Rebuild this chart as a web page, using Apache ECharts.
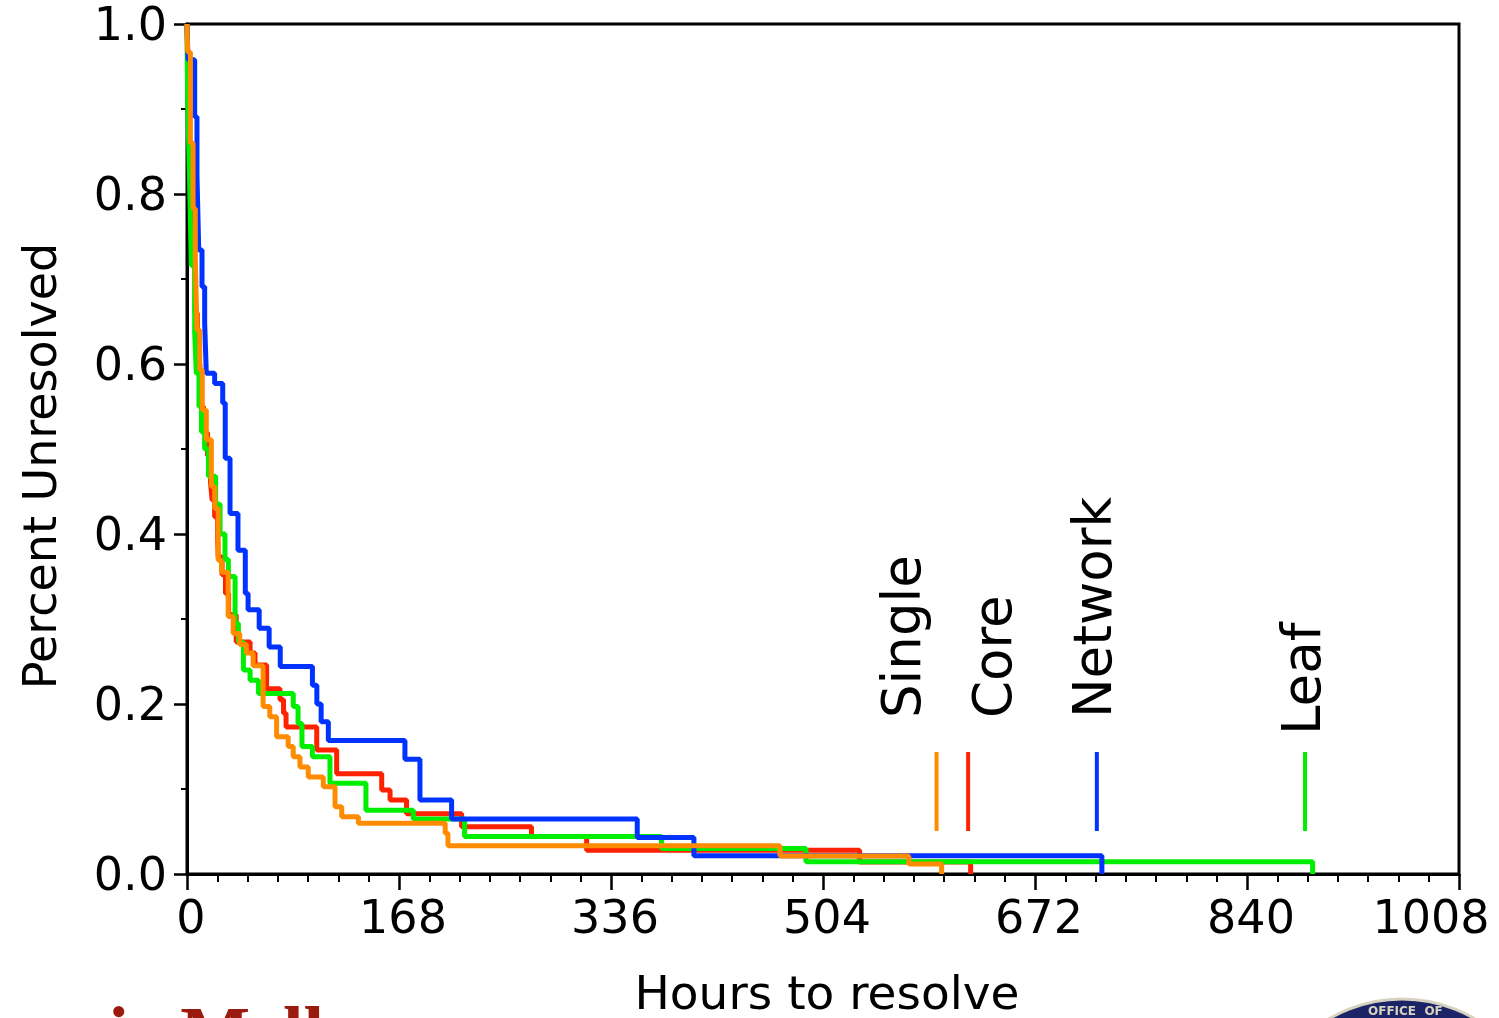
<!DOCTYPE html>
<html>
<head>
<meta charset="utf-8">
<title>Hours to resolve</title>
<script src="https://cdn.jsdelivr.net/npm/echarts@6/dist/echarts.min.js"></script>
</head>
<body style="margin:0;background:#fff">
<div id="container" style="width:1499px;height:1018px"></div>
<script>
// [hours, fraction still unresolved] at each step
var core = [[0,1],[0.6,0.94],[1.8,0.87],[3.2,0.79],[4.6,0.72],[6.4,0.66],[8.2,0.6],[10.2,0.55],[13.1,0.519],
    [16.3,0.492],[18.6,0.461],[19.9,0.44],[21.9,0.42],[24.3,0.395],[24.7,0.373],[27.8,0.352],[30.5,0.33],
    [33,0.305],[39,0.273],[50,0.26],[53.9,0.246],[63.1,0.218],[73.7,0.205],[76.5,0.189],[78.5,0.173],
    [102.8,0.146],[118.6,0.118],[154.3,0.0988],[160.9,0.087],[174,0.071],[217.6,0.0557],[273,0.044],
    [316.7,0.0278],[533,0.014],[621,0]];
var leaf = [[0,1],[0.2,0.96],[0.5,0.91],[2,0.82],[3.4,0.716],[6.1,0.636],[7.4,0.589],[9.5,0.55],[11.5,0.52],
    [14,0.5],[17,0.468],[22.7,0.435],[26.2,0.4],[30.1,0.37],[32.8,0.35],[38.1,0.295],[40.7,0.273],[44.7,0.24],
    [50,0.228],[56.6,0.2125],[84.2,0.197],[88,0.177],[91.1,0.15],[99.4,0.138],[113.3,0.1067],[141.8,0.075],
    [179.3,0.0647],[220,0.044],[376,0.03],[490.5,0.0145],[892,0]];
var network = [[0,1],[0.8,0.958],[6.1,0.891],[7.9,0.822],[9.3,0.734],[11.9,0.691],[14,0.648],[15.3,0.589],
    [21.9,0.577],[28.3,0.554],[30.3,0.489],[34.1,0.424],[40.4,0.381],[46.2,0.33],[48.4,0.311],[57.2,0.289],
    [65.1,0.267],[73.9,0.244],[99.4,0.222],[102.9,0.2],[106.3,0.179],[112,0.157],[172.7,0.135],[184.6,0.087],
    [209.7,0.0647],[356.8,0.043],[401.7,0.0215],[725,0]];
var single = [[0,1],[0.5,0.967],[2.7,0.86],[4.8,0.783],[6.6,0.724],[7.9,0.64],[10.1,0.593],[12.1,0.546],
    [15.3,0.511],[19.3,0.456],[22,0.43],[24.7,0.369],[27.3,0.355],[32.6,0.303],[36.6,0.283],[41.8,0.27],
    [47.1,0.26],[52.4,0.245],[60.3,0.197],[65.6,0.185],[71,0.1616],[80.2,0.15],[84.2,0.138],[89.5,0.126],
    [96.1,0.114],[108,0.1027],[117.3,0.079],[122.6,0.0674],[135.8,0.0596],[204.6,0.048],[206.8,0.0333],
    [469.9,0.0212],[572,0.0118],[598,0]];

var groupNames = ['Core', 'Leaf', 'Network', 'Single'];
var groupColors = ['#ff2200', '#00ee00', '#0033ff', '#ff8c00'];
var groupData = [core, leaf, network, single];
var markerHours = [619, 886, 721, 594];
var markerRange = [0.0506, 0.1435];
var labelHours = [642, 887, 721, 570];
var labelLevels = [0.1835, 0.1635, 0.1835, 0.1835];

var xMax = 1008, xStep = 168;

var font = 'DejaVu Sans, Verdana, sans-serif';
var series = [];
for (var i = 0; i < groupNames.length; i++) {
    series.push({
        name: groupNames[i],
        type: 'line',
        step: 'end',
        showSymbol: false,
        data: groupData[i],
        lineStyle: {color: groupColors[i], width: 5},
        z: 2 + i
    });
}
for (var j = 0; j < groupNames.length; j++) {
    series.push({
        type: 'line',
        showSymbol: false,
        data: [[markerHours[j], markerRange[0]], [markerHours[j], markerRange[1]]],
        lineStyle: {color: groupColors[j], width: 4},
        z: 2
    });
}
var labelPoints = [];
for (var k = 0; k < groupNames.length; k++) {
    labelPoints.push({value: [labelHours[k], labelLevels[k]], name: groupNames[k]});
}
series.push({
    type: 'scatter',
    symbolSize: 0,
    itemStyle: {opacity: 1},
    data: labelPoints,
    label: {
        show: true,
        position: [0, 0],
        rotate: 90,
        align: 'left',
        verticalAlign: 'middle',
        formatter: '{b}',
        fontSize: 53,
        fontFamily: font,
        color: '#000',
        opacity: 1
    },
    z: 10
});

var myChart = echarts.init(document.getElementById('container'));
var option = {
    animation: false,
    backgroundColor: '#fff',
    grid: {
        left: 187, top: 24, right: 40, bottom: 144,
        outerBoundsMode: 'none',
        containLabel: false,
        show: true, borderColor: '#000', borderWidth: 3
    },
    xAxis: {
        type: 'value',
        min: 0, max: xMax, interval: xStep,
        name: 'Hours to resolve',
        nameLocation: 'middle',
        nameGap: 99,
        nameTextStyle: {fontSize: 47, fontFamily: font, color: '#000', padding: [0, 0, 0, 8]},
        axisLine: {lineStyle: {color: '#000', width: 3}},
        axisTick: {length: 16, lineStyle: {color: '#000', width: 2.5}},
        minorTick: {show: true, splitNumber: 7, length: 8, lineStyle: {color: '#000', width: 2}},
        axisLabel: {
            margin: 24, fontSize: 46, fontFamily: font, color: '#000', showMaxLabel: true,
            formatter: function (v) {
                return v === xMax ? '{last|' + v + '}' : '{tick|' + v + '}';
            },
            rich: {
                tick: {fontSize: 46, fontFamily: font, color: '#000', padding: [0, 0, 0, 8]},
                last: {fontSize: 46, fontFamily: font, color: '#000', padding: [0, 56, 0, 0]}
            }
        },
        splitLine: {show: false}
    },
    yAxis: {
        type: 'value',
        min: 0, max: 1, interval: 0.2,
        name: 'Percent Unresolved',
        nameLocation: 'middle',
        nameGap: 120,
        nameTextStyle: {fontSize: 46, fontFamily: font, color: '#000', padding: [0, 34, 0, 0]},
        axisLine: {show: true, lineStyle: {color: '#000', width: 3}},
        axisTick: {show: true, length: 13, lineStyle: {color: '#000', width: 2.5}},
        minorTick: {show: true, splitNumber: 2, length: 6, lineStyle: {color: '#000', width: 2}},
        axisLabel: {
            margin: 20, fontSize: 46, fontFamily: font, color: '#000',
            formatter: function (v) { return '{t|' + v.toFixed(1) + '}'; },
            rich: {
                t: {fontSize: 46, fontFamily: font, color: '#000', padding: [9, 0, 0, 0]}
            }
        },
        splitLine: {show: false}
    },
    graphic: [
        {
            type: 'text', left: -126, top: 1002, silent: true,
            style: {text: 'Carnegie Mellon', font: 'bold 74px "Liberation Serif", serif', fill: '#9b1a0e'}
        },
        {
            type: 'circle', silent: true,
            shape: {cx: 1402, cy: 1143, r: 144},
            style: {fill: '#1a2466', stroke: '#d8d2c0', lineWidth: 3}
        },
        {
            type: 'text', left: 1368, top: 1006, silent: true,
            style: {text: 'OFFICE  OF', font: 'bold 12px "DejaVu Sans", sans-serif', fill: '#d8d2c0'}
        }
    ],
    series: series
};
myChart.setOption(option);
</script>
</body>
</html>
